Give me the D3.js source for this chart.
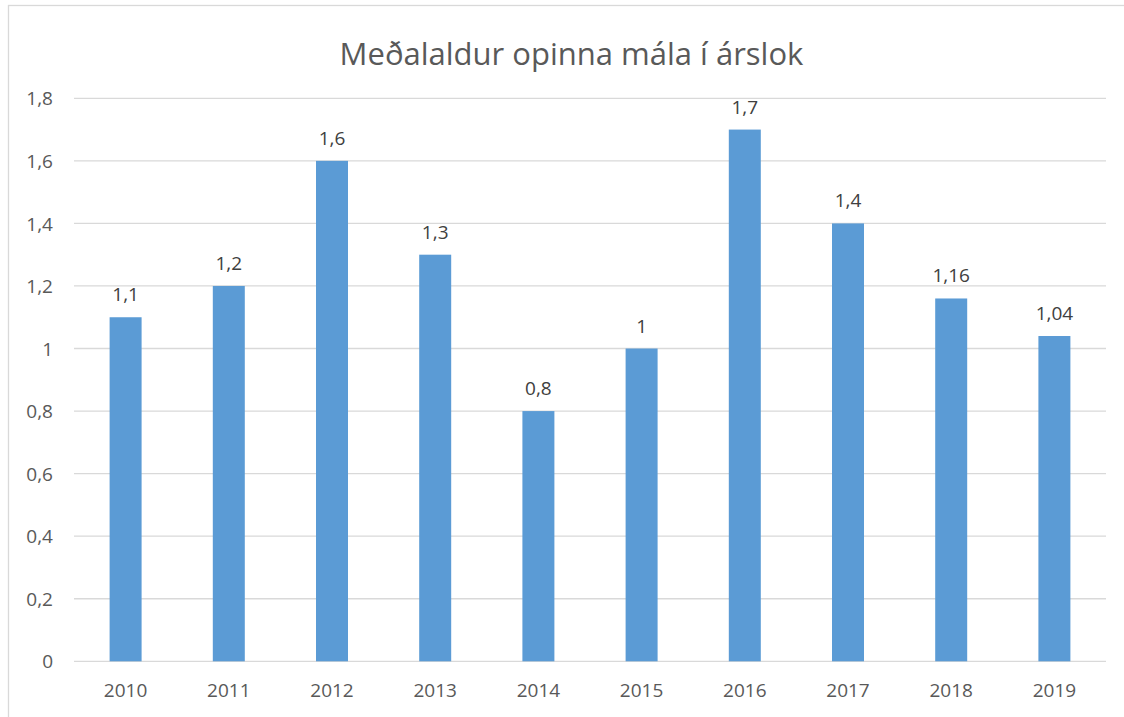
<!DOCTYPE html>
<html>
<head>
<meta charset="utf-8">
<script src="https://cdn.jsdelivr.net/npm/d3@7"></script>
<style>
  html, body { margin: 0; padding: 0; background: #fff; }
  svg { display: block; }
</style>
</head>
<body>
<svg id="chart" width="1124" height="717"></svg>
<script>
// data
const years = ['2010', '2011', '2012', '2013', '2014', '2015', '2016', '2017', '2018', '2019'];
const values = [1.1, 1.2, 1.6, 1.3, 0.8, 1.0, 1.7, 1.4, 1.16, 1.04];
const yTicks = [0, 0.2, 0.4, 0.6, 0.8, 1.0, 1.2, 1.4, 1.6, 1.8];
const chartTitle = 'Meðalaldur opinna mála í árslok';

const font = '"Open Sans", "Noto Sans", sans-serif';
const fmt = v => String(+v.toFixed(2)).replace('.', ',');

const svg = d3.select('#chart');

// chart frame (runs off the right and bottom edge)
svg.append('rect')
    .attr('x', 8.5).attr('y', 5.5)
    .attr('width', 1140).attr('height', 730)
    .attr('fill', '#fff')
    .attr('stroke', '#d9d9d9')
    .attr('stroke-width', 1.3);

const plot = { left: 74, right: 1106, top: 98.3, bottom: 661.3 };

const x = d3.scaleBand()
    .domain(years)
    .range([plot.left, plot.right])
    .paddingInner(0.69)
    .paddingOuter(0.345);

const y = d3.scaleLinear()
    .domain([0, 1.8])
    .range([plot.bottom, plot.top]);

// gridlines
svg.append('g')
    .selectAll('line')
    .data(yTicks)
    .join('line')
    .attr('x1', plot.left).attr('x2', plot.right)
    .attr('y1', d => y(d)).attr('y2', d => y(d))
    .attr('stroke', '#d9d9d9')
    .attr('stroke-width', 1.3);

// y axis labels
const yAxis = svg.append('g')
    .attr('transform', `translate(${plot.left},0)`)
    .call(d3.axisLeft(y).tickValues(yTicks).tickSize(0).tickPadding(21).tickFormat(fmt));
yAxis.select('.domain').remove();
yAxis.selectAll('text')
    .attr('fill', '#595959')
    .attr('font-family', font)
    .attr('font-size', '19px')
    .attr('dy', '0.35em');

// bars
svg.append('g')
    .selectAll('rect')
    .data(values)
    .join('rect')
    .attr('x', (d, i) => x(years[i]))
    .attr('width', x.bandwidth())
    .attr('y', d => y(d))
    .attr('height', d => y(0) - y(d))
    .attr('fill', '#5b9bd5');

// value labels
svg.append('g')
    .selectAll('text')
    .data(values)
    .join('text')
    .attr('x', (d, i) => x(years[i]) + x.bandwidth() / 2)
    .attr('y', d => y(d) - 16)
    .attr('text-anchor', 'middle')
    .attr('fill', '#404040')
    .attr('font-family', font)
    .attr('font-size', '19px')
    .text(fmt);

// x axis
const xAxis = svg.append('g')
    .attr('transform', `translate(0,${plot.bottom})`)
    .call(d3.axisBottom(x).tickSize(0).tickPadding(22));
xAxis.select('.domain').remove();
xAxis.selectAll('text')
    .attr('fill', '#595959')
    .attr('font-family', font)
    .attr('font-size', '19px');

// title
svg.append('text')
    .attr('x', 571.5)
    .attr('y', 65)
    .attr('text-anchor', 'middle')
    .attr('fill', '#595959')
    .attr('font-family', font)
    .attr('font-size', '31px')
    .text(chartTitle);
</script>
</body>
</html>
